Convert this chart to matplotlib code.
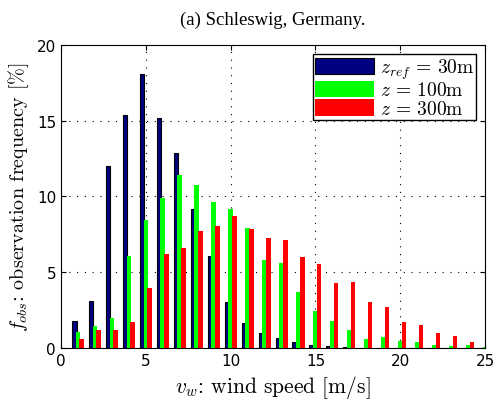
import numpy as np
import matplotlib.pyplot as plt

plt.rcParams["mathtext.fontset"] = "cm"
plt.rcParams["axes.unicode_minus"] = False

# wind speed bins [m/s]
speeds = np.arange(1, 26)

# observation frequency [%] per height
f_30 = [1.76, 3.1, 12.0, 15.35, 18.07, 15.2, 12.86, 9.18, 6.08, 3.04,
        1.63, 0.97, 0.64, 0.4, 0.2, 0.1, 0.05, 0.03, 0.02, 0.01,
        0.01, 0.0, 0.0, 0.0, 0.0]
f_100 = [1.08, 1.47, 1.98, 6.05, 8.45, 9.9, 11.43, 10.77, 9.64, 9.15,
         7.93, 5.81, 5.63, 3.68, 2.42, 1.78, 1.19, 0.57, 0.75, 0.46,
         0.4, 0.2, 0.1, 0.2, 0.05]
f_300 = [0.57, 1.17, 1.19, 1.69, 3.94, 6.19, 6.58, 7.73, 8.02, 8.72,
         7.84, 7.27, 7.13, 5.99, 5.53, 4.27, 4.34, 3.04, 2.73, 1.72,
         1.52, 1.01, 0.81, 0.37, 0.0]

fig = plt.figure(figsize=(4.95, 4.06), dpi=100)
ax = fig.add_axes([0.1232, 0.1404, 0.8568, 0.7463])

w = 0.27
ax.bar(speeds - 0.22, f_30, w, color="#000080", edgecolor="black", linewidth=0.8,
       label=r"$z_{ref}\,=\,30$m", zorder=3)
ax.bar(speeds, f_100, w, color="#00ff00", edgecolor="none",
       label=r"$z\,=\,100$m", zorder=3)
ax.bar(speeds + 0.22, f_300, w, color="#ff0000", edgecolor="none",
       label=r"$z\,=\,300$m", zorder=3)

ax.set_xlim(0, 25)
ax.set_ylim(0, 20)
ax.set_xticks([0, 5, 10, 15, 20, 25])
ax.set_yticks([0, 5, 10, 15, 20])
ax.grid(True, linestyle=(0, (1, 6)), color="black", linewidth=0.8, zorder=0)
ax.tick_params(axis="both", direction="in", top=True, right=True, labelsize=11)

ax.set_xlabel(r"$v_w$: wind speed [m/s]", fontsize=15.5, family="cmr10")
ax.set_ylabel(r"$f_{obs}$: observation frequency [%]", fontsize=14.5, family="cmr10")
ax.set_title("(a) Schleswig, Germany.", fontsize=13.5, family="Liberation Serif", pad=15)

leg = ax.legend(loc="upper right", prop={"family": "cmr10", "size": 14},
                fancybox=False, framealpha=1, edgecolor="black",
                borderaxespad=0.45, handlelength=3.0, handleheight=0.9,
                handletextpad=0.3, labelspacing=0.0, borderpad=0.12)
leg.get_frame().set_linewidth(1.0)

fig.savefig("out.png", dpi=100)
